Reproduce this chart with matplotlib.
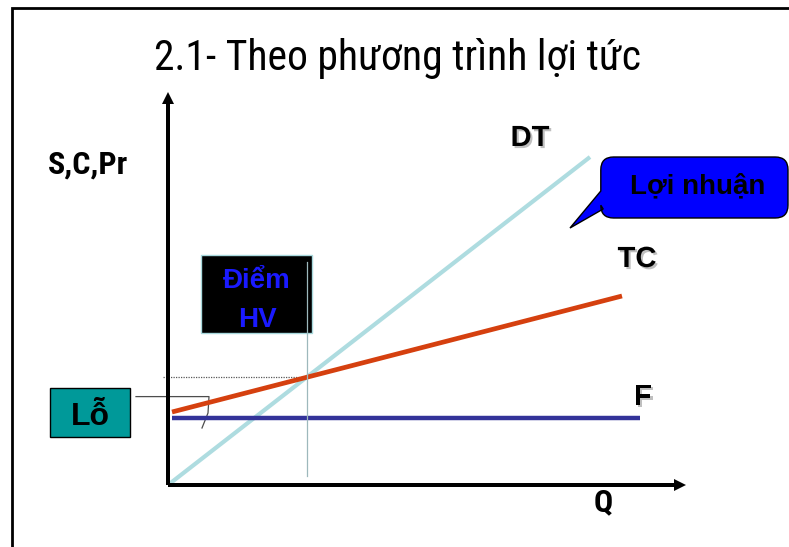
import numpy as np
import matplotlib
matplotlib.use("Agg")
import matplotlib.pyplot as plt
import matplotlib.patheffects as pe
from matplotlib.patches import Rectangle, PathPatch
from matplotlib.path import Path

# break-even chart data (Q in output units, values in money units)
q_dt = [0, 105.5]
dt = [0, 82]          # doanh thu
q_tc = [1, 113.5]
tc = [18.25, 47.25]   # tong chi phi
q_f = [1, 118]
f = [16.75, 16.75]    # dinh phi

NARROW = ["Roboto Condensed", "Roboto", "DejaVu Sans"]
SANS = ["Liberation Sans", "DejaVu Sans"]

fig = plt.figure(figsize=(7.89, 5.47), dpi=100)
ax = fig.add_axes([0, 0, 1, 1])
ax.set_xlim(-42, 155.25)
ax.set_ylim(-15.5, 121.25)
ax.axis("off")

# slide frame
ax.plot([-39, -39, 160], [-20, 119.25, 119.25], color="k", lw=2, solid_joinstyle="miter")

ax.text(57.25, 103.75, "2.1- Theo phương trình lợi tức", family=NARROW,
        fontsize=30, ha="center", va="baseline")

# lines
ax.plot(q_dt, dt, color="#AEDCE0", lw=3, zorder=3, solid_capstyle="butt")
ax.plot(q_tc, tc, color="#D5400F", lw=3.4, zorder=3, solid_capstyle="butt")
ax.plot(q_f, f, color="#333399", lw=3.2, zorder=3, solid_capstyle="butt")

# break-even point
s_dt = (dt[1] - dt[0]) / (q_dt[1] - q_dt[0])
s_tc = (tc[1] - tc[0]) / (q_tc[1] - q_tc[0])
c_tc = tc[0] - s_tc * q_tc[0]
q_be = c_tc / (s_dt - s_tc)
v_be = s_dt * q_be
ax.plot([-1.25, q_be], [v_be, v_be], color="0.35", lw=0.9, ls=(0, (1, 1)), zorder=2)
ax.plot([q_be, q_be], [2.25, 55.75], color="#9DB8BC", lw=0.9, zorder=6)

# axes with arrows
ax.arrow(0, 0, 0, 98.25, width=1.0, head_width=3, head_length=3,
         length_includes_head=True, color="k", lw=0, zorder=5)
ax.arrow(0, 0, 129.5, 0, width=1.0, head_width=3, head_length=3,
         length_includes_head=True, color="k", lw=0, zorder=5)

ax.text(-20, 77.75, "S,C,Pr", family=NARROW, fontweight="bold", fontsize=23,
        ha="center", va="baseline")
ax.text(108.75, -6.5, "Q", family=NARROW, fontweight="bold", fontsize=23,
        ha="center", va="baseline")

shadow = [pe.SimplePatchShadow(offset=(1.5, -1.5), shadow_rgbFace="0.75", alpha=1), pe.Normal()]
for x, y, s in [(90.5, 84.75, "DT"), (117.25, 54.5, "TC"), (118.75, 20, "F")]:
    ax.text(x, y, s, family=SANS, fontweight="bold", fontsize=21,
            ha="center", va="baseline", path_effects=shadow)

# Diem hoa von box
ax.add_patch(Rectangle((8.25, 38), 27.75, 19.5, facecolor="k", edgecolor="#A8D8DC",
                       lw=1, zorder=4))
ax.text(22.25, 49.25, "Điểm", family=SANS, fontweight="bold", fontsize=20,
        color="#1A1AFF", ha="center", va="baseline", zorder=7)
ax.text(22.25, 39.5, "HV", family=SANS, fontweight="bold", fontsize=20,
        color="#1A1AFF", ha="center", va="baseline", zorder=7)

# Lo box with connector
ax.plot([-8, 10.25, 10.0, 8.5], [22.1, 22.1, 18, 14.25], color="0.3", lw=0.9, zorder=2)
ax.add_patch(Rectangle((-29.5, 12), 20, 12.25, facecolor="#009999", edgecolor="k",
                       lw=1, zorder=4))
ax.text(-19.5, 15, "Lỗ", family=SANS, fontweight="bold", fontsize=23,
        ha="center", va="baseline", zorder=5)

# Loi nhuan callout
x0, x1, y0, y1, r = 108.2, 155.0, 66.75, 82, 3.2
verts = [(x0, y1 - r), (x0, 73.5), (100.5, 64.25), (x0 + 0.6, 69.0), (x0, y0 + r),
         (x0, y0), (x0 + r, y0), (x1 - r, y0), (x1, y0), (x1, y0 + r),
         (x1, y1 - r), (x1, y1), (x1 - r, y1), (x0 + r, y1), (x0, y1), (x0, y1 - r),
         (x0, y1 - r)]
codes = [Path.MOVETO, Path.LINETO, Path.LINETO, Path.LINETO, Path.LINETO,
         Path.CURVE3, Path.CURVE3, Path.LINETO, Path.CURVE3, Path.CURVE3,
         Path.LINETO, Path.CURVE3, Path.CURVE3, Path.LINETO, Path.CURVE3, Path.CURVE3,
         Path.CLOSEPOLY]
ax.add_patch(PathPatch(Path(verts, codes), facecolor="#0000FF", edgecolor="k",
                       lw=1, zorder=4))
ax.text(132.5, 73, "Lợi nhuận", family=SANS, fontweight="bold", fontsize=20,
        ha="center", va="baseline", zorder=5)

fig.savefig("out.png", dpi=100)
